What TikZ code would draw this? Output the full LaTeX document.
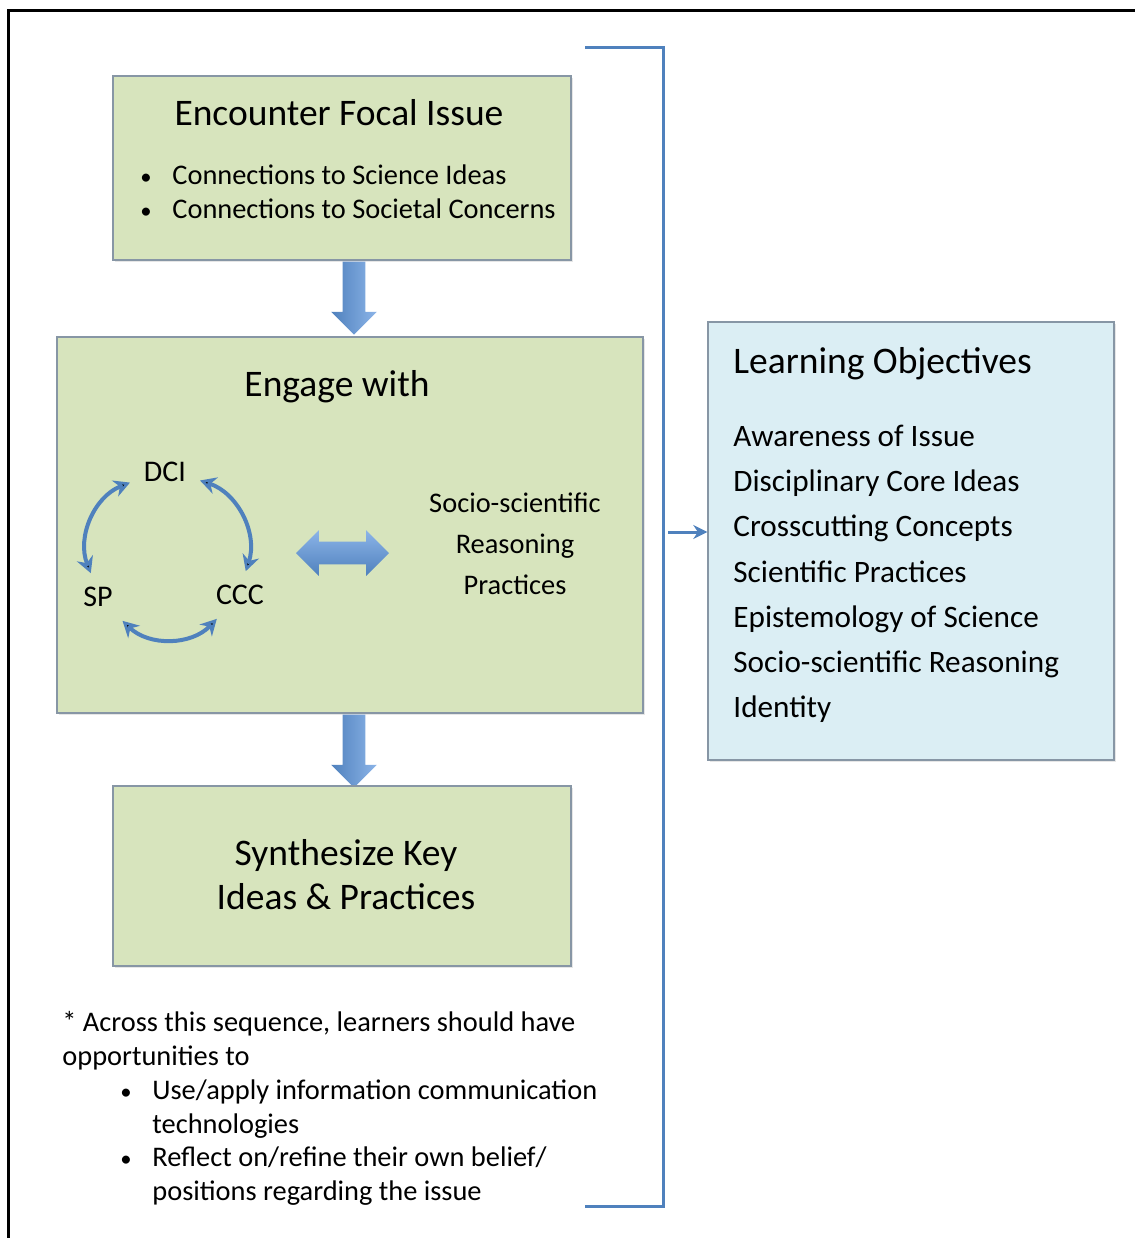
\documentclass[tikz,border=0pt]{standalone}
\usepackage{fontspec}
\setmainfont{Carlito}
\usetikzlibrary{shapes.arrows,arrows.meta,positioning,shadows}
\def \px {0.5pt}
\def \bul {\makebox[16pt][l]{\scalebox{0.8}{\textbullet}}}
\definecolor{leaf}{RGB}{215,228,189}
\definecolor{sky}{RGB}{219,238,244}
\definecolor{rim}{RGB}{135,150,165}
\definecolor{steel}{RGB}{79,129,189}
\definecolor{steellight}{RGB}{140,180,232}

\begin{document}
\begin{tikzpicture}[x=\px,y=-\px,
    stage/.style={draw=rim,line width=0.7pt,fill=leaf,drop shadow={shadow xshift=1pt,shadow yshift=-1pt,opacity=0.2}},
    goalbox/.style={stage,fill=sky},
    head/.style={font=\fontsize{18.75}{22}\selectfont,align=center,inner sep=0},
    body/.style={font=\fontsize{14.2}{16.9}\selectfont,align=left,inner sep=0},
    term/.style={font=\fontsize{15}{18}\selectfont,inner sep=0,outer sep=7pt},
    fat/.style={single arrow,rotate=-90,inner sep=11*\px,minimum height=73*\px,minimum width=45*\px,single arrow head extend=11.5*\px,left color=steel,right color=steellight},
    fatdouble/.style={double arrow,inner sep=11*\px,minimum height=93*\px,minimum width=45*\px,double arrow head extend=11.5*\px,top color=steellight,bottom color=steel},
    loopline/.style={draw=steel,line width=2pt,{Stealth[length=8pt,width=8.5pt]}-{Stealth[length=8pt,width=8.5pt]}},
    brace/.style={draw=steel,line width=1.5pt}]
  \useasboundingbox (0,0) rectangle (1135,1238);
  \draw[line width=1.5pt] (1135,10) -- (8,10) -- (8,1238);

  % encounter
  \node[stage,minimum width=458*\px,minimum height=184*\px] (focal) at (342,168) {};
  \node[head] (focalhead) at (339,113) {Encounter Focal Issue};
  \node[body,anchor=west] (focalpts) at (140,192) {\bul Connections to Science Ideas\\\bul Connections to Societal Concerns};
  \node[fat] (down1) at (354,292.5) {};

  % engage
  \node[stage,minimum width=586*\px,minimum height=376*\px] (engage) at (350,525) {};
  \node[head] (engagehead) at (337,387) {Engage with};
  \node[term] (dci) at (165,472) {DCI};
  \node[term] (sp) at (98,597) {SP};
  \node[term] (ccc) at (240,595) {CCC};
  \path[loopline] (dci) edge[bend right=45] (sp);
  \path[loopline] (dci) edge[bend left=45] (ccc);
  \path[loopline] (sp) edge[bend right=45] (ccc);
  \node[fatdouble] (link) at (342.5,553) {};
  \node[body,align=center,font=\fontsize{14.2}{20.5}\selectfont] (ssr) at (515,544) {Socio-scientific\\Reasoning\\Practices};
  \node[fat] (down2) at (354,745.5) {};

  % synthesize
  \node[stage,minimum width=458*\px,minimum height=180*\px] (synth) at (342,876) {};
  \node[head] (synthhead) at (346,875) {Synthesize Key\\Ideas \& Practices};

  \node[body,anchor=west] (note) at (62,1108.5) {* Across this sequence, learners should have\\opportunities to\\
    \hspace*{29pt}\bul Use/apply information communication\\\hspace*{45pt}technologies\\
    \hspace*{29pt}\bul Reflect on/refine their own belief/\\\hspace*{45pt}positions regarding the issue};

  % objectives
  \node[goalbox,minimum width=406*\px,minimum height=438*\px] (goals) at (911,541) {};
  \node[head,anchor=west] (goalshead) at (733,364) {Learning Objectives};
  \node[body,anchor=west,font=\fontsize{15.6}{22.6}\selectfont] (goallist) at (733,574) {Awareness of Issue\\Disciplinary Core Ideas\\Crosscutting Concepts\\Scientific Practices\\Epistemology of Science\\Socio-scientific Reasoning\\Identity};

  \draw[brace] (585,47) -- (663,47) -- (663,1206) -- (585,1206);
  \coordinate (hook) at (663,532);
  \draw[brace,-{Stealth[length=7pt,width=7pt]}] ([xshift=2.5pt]hook) -- (goals.west |- hook);
\end{tikzpicture}
\end{document}
